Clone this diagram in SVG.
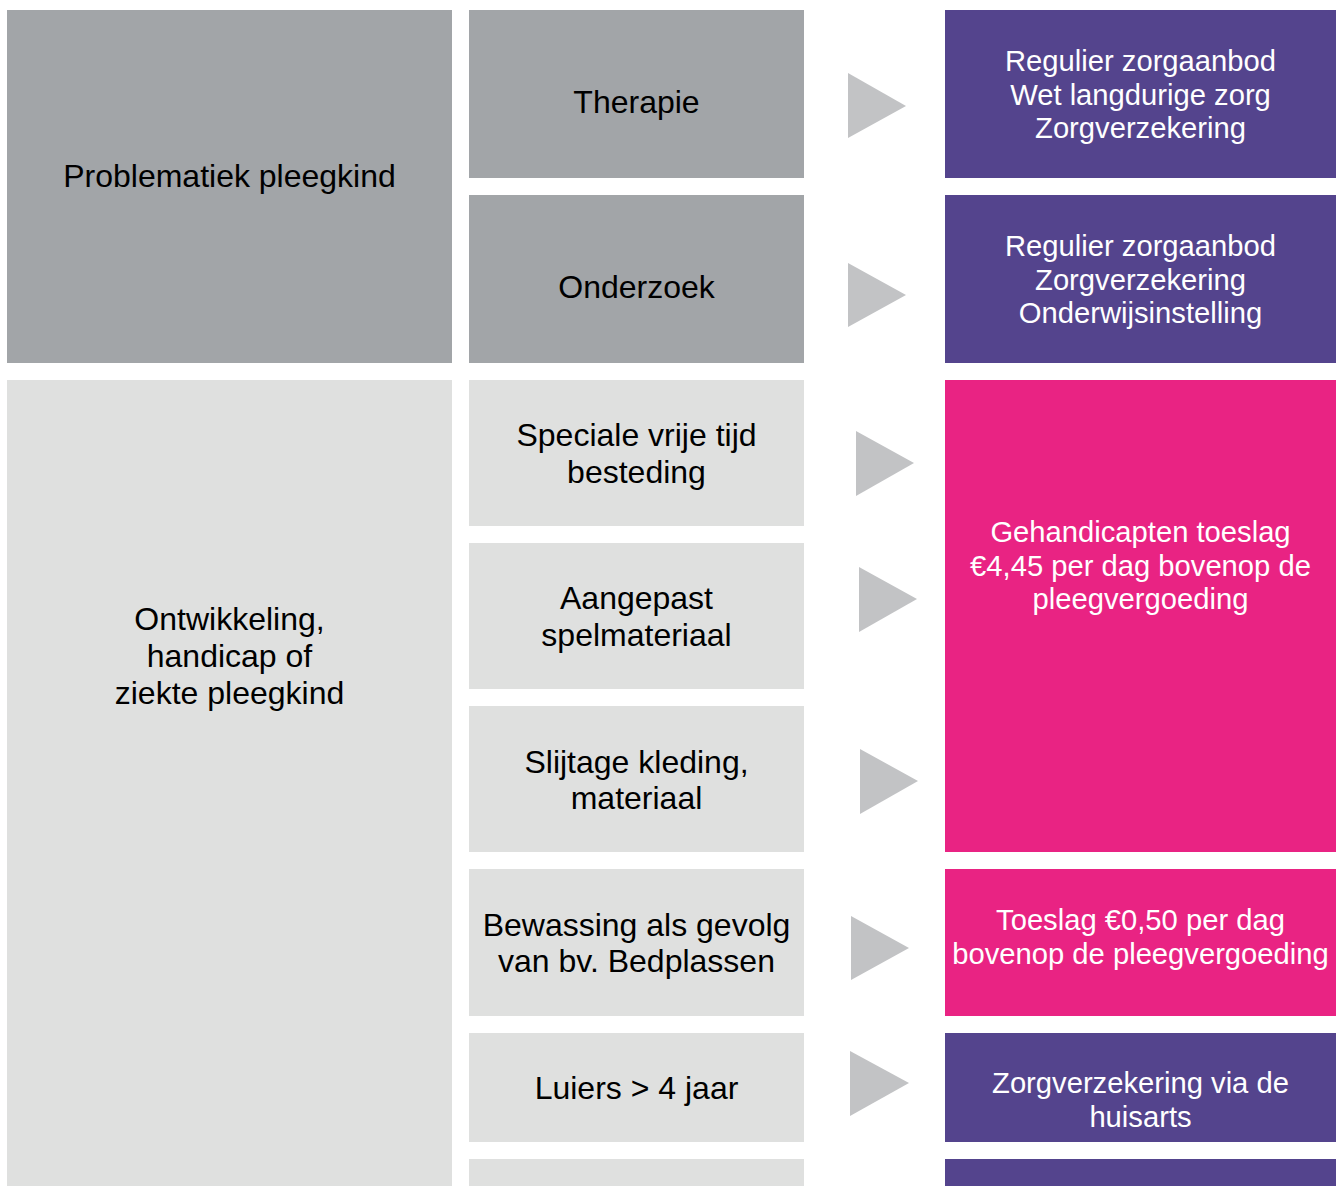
<svg xmlns="http://www.w3.org/2000/svg" width="1338" height="1186" viewBox="0 0 1338 1186">
  <style>
    .dark { fill: #A2A5A8; }
    .light { fill: #DFE0DF; }
    .purple { fill: #54448D; }
    .pink { fill: #E92383; }
    .arrow { fill: #C2C3C5; }
    .tb { font-family: "Liberation Sans", Arial, sans-serif; font-size: 32px; fill: #000; text-anchor: middle; }
    .tw { font-family: "Liberation Sans", Arial, sans-serif; font-size: 29.2px; fill: #FFF; text-anchor: middle; }
  </style>
  <rect width="1338" height="1186" fill="#FFFFFF"/>

  <g id="problematiek">
    <rect class="dark" x="7" y="10" width="445" height="353"/>
    <text class="tb" x="229.5" y="187">Problematiek pleegkind</text>
  </g>
  <g id="ontwikkeling">
    <rect class="light" x="7" y="380" width="445" height="806"/>
    <text class="tb" x="229.5" y="630">Ontwikkeling,</text>
    <text class="tb" x="229.5" y="667">handicap of</text>
    <text class="tb" x="229.5" y="704">ziekte pleegkind</text>
  </g>

  <g id="therapie">
    <rect class="dark" x="469" y="10" width="335" height="168"/>
    <text class="tb" x="636.5" y="113">Therapie</text>
  </g>
  <g id="onderzoek">
    <rect class="dark" x="469" y="195" width="335" height="168"/>
    <text class="tb" x="636.5" y="298">Onderzoek</text>
  </g>
  <g id="vrijetijd">
    <rect class="light" x="469" y="380" width="335" height="146"/>
    <text class="tb" x="636.5" y="446">Speciale vrije tijd</text>
    <text class="tb" x="636.5" y="483">besteding</text>
  </g>
  <g id="spelmateriaal">
    <rect class="light" x="469" y="543" width="335" height="146"/>
    <text class="tb" x="636.5" y="609">Aangepast</text>
    <text class="tb" x="636.5" y="646">spelmateriaal</text>
  </g>
  <g id="slijtage">
    <rect class="light" x="469" y="706" width="335" height="146"/>
    <text class="tb" x="636.5" y="773">Slijtage kleding,</text>
    <text class="tb" x="636.5" y="809">materiaal</text>
  </g>
  <g id="bewassing">
    <rect class="light" x="469" y="869" width="335" height="147"/>
    <text class="tb" x="636.5" y="936">Bewassing als gevolg</text>
    <text class="tb" x="636.5" y="972">van bv. Bedplassen</text>
  </g>
  <g id="luiers">
    <rect class="light" x="469" y="1033" width="335" height="109"/>
    <text class="tb" x="636.5" y="1099">Luiers &gt; 4 jaar</text>
  </g>
  <g id="mid-extra">
    <rect class="light" x="469" y="1159" width="335" height="27"/>
  </g>

  <g id="zorg1">
    <rect class="purple" x="945" y="10" width="391" height="168"/>
    <text class="tw" x="1140.5" y="71">Regulier zorgaanbod</text>
    <text class="tw" x="1140.5" y="104.5">Wet langdurige zorg</text>
    <text class="tw" x="1140.5" y="138">Zorgverzekering</text>
  </g>
  <g id="zorg2">
    <rect class="purple" x="945" y="195" width="391" height="168"/>
    <text class="tw" x="1140.5" y="256">Regulier zorgaanbod</text>
    <text class="tw" x="1140.5" y="289.5">Zorgverzekering</text>
    <text class="tw" x="1140.5" y="323">Onderwijsinstelling</text>
  </g>
  <g id="gehandicapten">
    <rect class="pink" x="945" y="380" width="391" height="472"/>
    <text class="tw" x="1140.5" y="542">Gehandicapten toeslag</text>
    <text class="tw" x="1140.5" y="576">€4,45 per dag bovenop de</text>
    <text class="tw" x="1140.5" y="609">pleegvergoeding</text>
  </g>
  <g id="toeslag">
    <rect class="pink" x="945" y="869" width="391" height="147"/>
    <text class="tw" x="1140.5" y="930">Toeslag €0,50 per dag</text>
    <text class="tw" x="1140.5" y="964">bovenop de pleegvergoeding</text>
  </g>
  <g id="huisarts">
    <rect class="purple" x="945" y="1033" width="391" height="109"/>
    <text class="tw" x="1140.5" y="1093">Zorgverzekering via de</text>
    <text class="tw" x="1140.5" y="1127">huisarts</text>
  </g>
  <g id="right-extra">
    <rect class="purple" x="945" y="1159" width="391" height="27"/>
  </g>

  <g id="connectors">
    <polygon class="arrow" points="848,73 906,106 848,138"/>
    <polygon class="arrow" points="848,263 906,295 848,327"/>
    <polygon class="arrow" points="856,431 914,463 856,496"/>
    <polygon class="arrow" points="859,567 917,599 859,632"/>
    <polygon class="arrow" points="860,749 918,781 860,814"/>
    <polygon class="arrow" points="851,916 909,948 851,980"/>
    <polygon class="arrow" points="850,1051 909,1083 850,1116"/>
  </g>
</svg>
